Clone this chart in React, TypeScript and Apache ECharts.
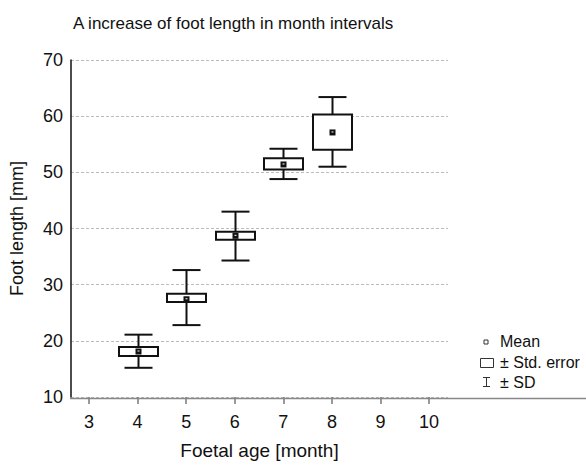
import React, { useEffect, useRef } from "react";
import * as echarts from "echarts";

const months = [4, 5, 6, 7, 8];
const means = [18.1, 27.4, 38.7, 51.4, 57.1];
const seLow = [17.3, 26.9, 38.0, 50.5, 54.0];
const seHigh = [18.9, 28.4, 39.4, 52.5, 60.3];
const sdLow = [15.2, 22.8, 34.3, 48.8, 51.0];
const sdHigh = [21.1, 32.6, 43.0, 54.2, 63.4];
const xTicks = [3, 4, 5, 6, 7, 8, 9, 10];
const yTicks = [10, 20, 30, 40, 50, 60, 70];
const titleText = "A increase of foot length in month intervals";
const xName = "Foetal age [month]";
const yName = "Foot length [mm]";
const legendLabels = ["Mean", "± Std. error", "± SD"];

const FONT = "'Liberation Sans', Arial, sans-serif";

export default function App() {
  const ref = useRef<HTMLDivElement>(null);
  useEffect(() => {
    if (!ref.current) return;
    const chart = echarts.init(ref.current, undefined, { renderer: "svg" });
    const data = months.map((m, i) => [m, means[i], seLow[i], seHigh[i], sdLow[i], sdHigh[i]]);
    const txt = { fontFamily: FONT, fontSize: 16, fill: "#111" };
    chart.setOption({
      animation: false,
      backgroundColor: "#fff",
      title: {
        text: titleText,
        left: 68,
        top: 10,
        textStyle: { fontFamily: FONT, fontSize: 17, fontWeight: "normal", color: "#111" },
      },
      grid: { left: 70.5, right: 138, top: 60, bottom: 66 },
      xAxis: {
        type: "value",
        min: 2.63,
        max: 10.39,
        name: xName,
        nameLocation: "middle",
        nameGap: 44,
        nameTextStyle: { fontFamily: FONT, fontSize: 19, color: "#111" },
        axisLine: { show: false },
        axisTick: { show: true, length: 7, customValues: xTicks, lineStyle: { color: "#777", width: 1.5 } },
        axisLabel: { customValues: xTicks, fontFamily: FONT, fontSize: 18, color: "#111", margin: 16 },
        splitLine: { show: false },
      },
      yAxis: {
        type: "value",
        min: yTicks[0],
        max: yTicks[yTicks.length - 1],
        interval: 10,
        name: yName,
        nameLocation: "middle",
        nameGap: 45,
        nameTextStyle: { fontFamily: FONT, fontSize: 18, color: "#111" },
        axisLine: { show: true, lineStyle: { color: "#111", width: 1.5 } },
        axisTick: { show: false },
        axisLabel: { fontFamily: FONT, fontSize: 18, color: "#111", margin: 8 },
        splitLine: { show: true, lineStyle: { color: "#bbb", type: [3, 2], width: 1 } },
      },
      graphic: [
        {
          type: "line",
          shape: { x1: 70, y1: 398.5, x2: 586, y2: 398.5 },
          style: { stroke: "#888", lineWidth: 1.5 },
          z: 10,
        },
        { type: "rect", shape: { x: 484, y: 340, width: 4, height: 4 }, style: { fill: "#fff", stroke: "#333", lineWidth: 1 } },
        { type: "text", x: 500, y: 341, style: { ...txt, text: legendLabels[0], verticalAlign: "middle" } },
        { type: "rect", shape: { x: 480.5, y: 358.5, width: 13, height: 9 }, style: { fill: "#fff", stroke: "#333", lineWidth: 1 } },
        { type: "text", x: 500, y: 362, style: { ...txt, text: legendLabels[1], verticalAlign: "middle" } },
        { type: "line", shape: { x1: 486.5, y1: 377, x2: 486.5, y2: 387 }, style: { stroke: "#333", lineWidth: 1 } },
        { type: "line", shape: { x1: 483, y1: 377.5, x2: 490, y2: 377.5 }, style: { stroke: "#333", lineWidth: 1 } },
        { type: "line", shape: { x1: 483, y1: 386.5, x2: 490, y2: 386.5 }, style: { stroke: "#333", lineWidth: 1 } },
        { type: "text", x: 500, y: 382, style: { ...txt, text: legendLabels[2], verticalAlign: "middle" } },
      ],
      series: [
        {
          type: "custom",
          data,
          encode: { x: 0, y: [1, 2, 3, 4, 5] },
          renderItem: (params: any, api: any) => {
            const x = api.value(0);
            const c = (v: number) => api.coord([x, v]);
            const pm = c(api.value(1));
            const pSeL = c(api.value(2));
            const pSeH = c(api.value(3));
            const pSdL = c(api.value(4));
            const pSdH = c(api.value(5));
            const cx = Math.round(pm[0]) + 0.5;
            const boxHalf = 19.5;
            const capHalf = 14;
            const st = { stroke: "#111", lineWidth: 2, fill: "none" };
            return {
              type: "group",
              children: [
                { type: "line", shape: { x1: cx, y1: pSdH[1], x2: cx, y2: pSdL[1] }, style: st },
                { type: "line", shape: { x1: cx - capHalf, y1: pSdH[1], x2: cx + capHalf, y2: pSdH[1] }, style: st },
                { type: "line", shape: { x1: cx - capHalf, y1: pSdL[1], x2: cx + capHalf, y2: pSdL[1] }, style: st },
                {
                  type: "rect",
                  shape: { x: cx - boxHalf, y: pSeH[1], width: boxHalf * 2, height: pSeL[1] - pSeH[1] },
                  style: { fill: "#fff", stroke: "#111", lineWidth: 2 },
                },
                { type: "rect", shape: { x: cx - 3, y: pm[1] - 3, width: 6, height: 6 }, style: { fill: "#111" } },
                { type: "rect", shape: { x: cx - 1, y: pm[1] - 1, width: 2, height: 1 }, style: { fill: "#fff" } },
              ],
            };
          },
          z: 5,
        },
      ],
    });
    return () => chart.dispose();
  }, []);
  return <div ref={ref} style={{ position: "fixed", left: 0, top: 0, width: 586, height: 465 }} />;
}
